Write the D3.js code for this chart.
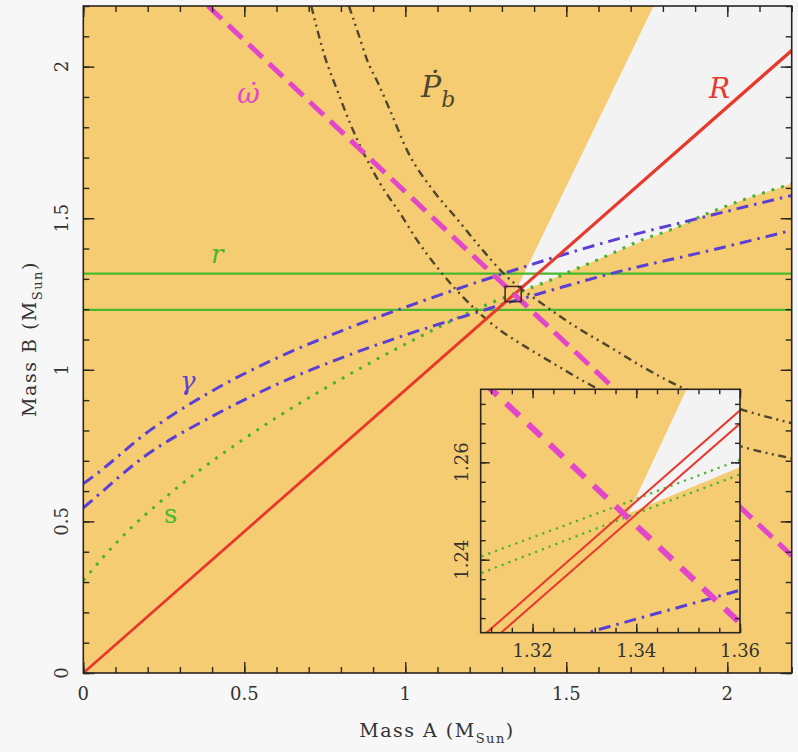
<!DOCTYPE html>
<html>
<head>
<meta charset="utf-8">
<script src="https://cdn.jsdelivr.net/npm/d3@7"></script>
<style>
  html, body { margin: 0; padding: 0; background: #f7f7f7; }
  svg { display: block; }
  text { font-family: "DejaVu Serif", serif; }
</style>
</head>
<body>
<svg id="chart" width="798" height="752"></svg>
<script>
// ---- Double-pulsar mass–mass constraints, points are [mass A, mass B] in solar masses ----
const omegaDot   = [[0.387, 2.2], [2.2, 0.387]];            // periastron advance (total mass)
const ratioHigh  = [[0, 0], [2.2, 2.0555]];                  // mass ratio R, upper bound
const ratioLow   = [[0, 0], [2.2, 2.0511]];                  // mass ratio R, lower bound
const shapiroR   = [1.198, 1.317];                           // Shapiro range r (mass B)
const pbDotA = [[0.708, 2.2], [0.751, 2.03], [0.789, 1.921], [0.829, 1.812], [0.922, 1.614],
  [0.984, 1.516], [1.037, 1.427], [1.099, 1.338], [1.211, 1.206], [1.295, 1.13], [1.357, 1.087],
  [1.46, 1.021], [1.565, 0.956], [1.8, 0.842], [2.05, 0.745], [2.2, 0.708]];
const pbDotB = [[0.825, 2.2], [0.854, 2.109], [0.882, 2.02], [0.916, 1.944], [0.953, 1.855],
  [1.006, 1.723], [1.087, 1.591], [1.161, 1.497], [1.233, 1.404], [1.305, 1.318], [1.441, 1.206],
  [1.513, 1.153], [1.637, 1.074], [1.74, 1.008], [1.864, 0.939], [2.032, 0.873], [2.2, 0.824]];
const gammaUpper = [[0, 0.625], [0.015, 0.636], [0.208, 0.801], [0.403, 0.932], [0.599, 1.038],
  [0.798, 1.127], [1.025, 1.216], [1.249, 1.298], [1.451, 1.367], [1.678, 1.437], [1.908, 1.499],
  [2.2, 1.575]];
const gammaLower = [[0, 0.545], [0.02, 0.563], [0.195, 0.718], [0.394, 0.843], [0.589, 0.946],
  [0.798, 1.038], [1.015, 1.12], [1.233, 1.193], [1.3326, 1.2256], [1.3542, 1.232], [1.451, 1.262],
  [1.678, 1.328], [1.908, 1.384], [2.2, 1.46]];
const sUpper = [[0, 0.305], [0.07, 0.392], [0.145, 0.475], [0.257, 0.581], [0.363, 0.67], [0.466, 0.748],
  [0.611, 0.85], [0.736, 0.93], [0.891, 1.023], [1.068, 1.122], [1.18, 1.181], [1.26, 1.2195],
  [1.31, 1.2406], [1.3375, 1.2515], [1.36, 1.2605], [1.45, 1.297], [1.522, 1.33], [1.627, 1.377],
  [1.73, 1.427], [1.833, 1.466], [1.938, 1.516], [2.041, 1.558], [2.2, 1.614]];
const sLower = [[0, 0.305], [0.07, 0.392], [0.145, 0.475], [0.257, 0.581], [0.363, 0.67], [0.466, 0.748],
  [0.611, 0.85], [0.736, 0.93], [0.891, 1.023], [1.068, 1.121], [1.18, 1.179], [1.26, 1.2165],
  [1.31, 1.2372], [1.3375, 1.2485], [1.36, 1.2575], [1.45, 1.294], [1.522, 1.328], [1.627, 1.376],
  [1.73, 1.426], [1.833, 1.465], [1.938, 1.515], [2.041, 1.557], [2.2, 1.613]];
const allowedRegion = [[1.3385, 1.2495], [1.3497, 1.275], [1.771, 2.2], [2.2, 2.2], [2.2, 1.614],
  [2.041, 1.558], [1.833, 1.466], [1.627, 1.377], [1.45, 1.297], [1.36, 1.259]];

// axis ticks
const mainMajor = [0, 0.5, 1, 1.5, 2];
const mainLabels = ["0", "0.5", "1", "1.5", "2"];
const mainMinor = [0, 0.1, 0.2, 0.3, 0.4, 0.5, 0.6, 0.7, 0.8, 0.9, 1, 1.1, 1.2, 1.3, 1.4, 1.5,
  1.6, 1.7, 1.8, 1.9, 2, 2.1, 2.2];
const zoomXMajor = [1.32, 1.34, 1.36];
const zoomXLabels = ["1.32", "1.34", "1.36"];
const zoomXMinor = [1.312, 1.316, 1.32, 1.324, 1.328, 1.332, 1.336, 1.34, 1.344, 1.348, 1.352, 1.356, 1.36];
const zoomYMajor = [1.24, 1.26];
const zoomYLabels = ["1.24", "1.26"];
const zoomYMinor = [1.228, 1.232, 1.236, 1.24, 1.244, 1.248, 1.252, 1.256, 1.26, 1.264, 1.268, 1.272];
const zoomDomainX = [1.31, 1.36];
const zoomDomainY = [1.225, 1.275];

// ---- colours ----
const C = {
  fill: "#f6cc72", allowed: "#f4f3f4", frame: "#2a2520",
  red: "#e8392c", magenta: "#e347c9", green: "#46b92c", dotGreen: "#46b232",
  blue: "#5a3fd6", olive: "#4f4630"
};

const svg = d3.select("#chart");

const x = d3.scaleLinear().domain([0, 2.2]).range([83.3, 791.7]);
const y = d3.scaleLinear().domain([0, 2.2]).range([673, 6]);
const ix = d3.scaleLinear().domain(zoomDomainX).range([480.7, 740]);
const iy = d3.scaleLinear().domain(zoomDomainY).range([632.7, 389.3]);

const defs = svg.append("defs");
function addClip(id, xs, ys) {
  defs.append("clipPath").attr("id", id).append("rect")
    .attr("x", xs.range()[0]).attr("y", ys.range()[1])
    .attr("width", xs.range()[1] - xs.range()[0])
    .attr("height", ys.range()[0] - ys.range()[1]);
}
addClip("clip-main", x, y);
addClip("clip-zoom", ix, iy);

function drawPanel(g, xs, ys, zoomed) {
  const line = (curve) => d3.line().x(d => xs(d[0])).y(d => ys(d[1])).curve(curve);
  const [xa, xb] = xs.domain();

  g.append("rect")
    .attr("x", xs.range()[0]).attr("y", ys.range()[1])
    .attr("width", xs.range()[1] - xs.range()[0])
    .attr("height", ys.range()[0] - ys.range()[1])
    .attr("fill", C.fill);

  g.append("path").datum(allowedRegion)
    .attr("d", line(d3.curveLinearClosed))
    .attr("fill", C.allowed);

  // Shapiro range r
  if (!zoomed) {
    g.selectAll("line.r").data(shapiroR).join("line")
      .attr("x1", xs(xa)).attr("x2", xs(xb))
      .attr("y1", d => ys(d)).attr("y2", d => ys(d))
      .attr("stroke", C.green).attr("stroke-width", 2.2);
  }

  // Shapiro shape s
  [sUpper, sLower].forEach(s => {
    g.append("path").datum(s).attr("d", line(d3.curveMonotoneX))
      .attr("fill", "none").attr("stroke", C.dotGreen)
      .attr("stroke-width", zoomed ? 2.2 : 2.6)
      .attr("stroke-dasharray", zoomed ? "2.2,5" : "2.6,7.4");
  });

  // Gravitational redshift gamma
  [gammaUpper, gammaLower].forEach(gm => {
    g.append("path").datum(gm).attr("d", line(d3.curveMonotoneX))
      .attr("fill", "none").attr("stroke", C.blue).attr("stroke-width", 3)
      .attr("stroke-dasharray", "12,6,2.5,6");
  });

  // Orbital decay Pb-dot
  if (!zoomed) {
    [pbDotA, pbDotB].forEach(p => {
      g.append("path").datum(p).attr("d", line(d3.curveMonotoneX))
        .attr("fill", "none").attr("stroke", C.olive).attr("stroke-width", 2.4)
        .attr("stroke-dasharray", "8,4.5,2,4.5,2,4.5");
    });
  }

  // Mass ratio R
  [ratioHigh, ratioLow].forEach(r => {
    g.append("path").datum(r).attr("d", line(d3.curveLinear))
      .attr("fill", "none").attr("stroke", C.red)
      .attr("stroke-width", zoomed ? 2 : 2.4);
  });

  // Periastron advance omega-dot
  g.append("path").datum(omegaDot).attr("d", line(d3.curveLinear))
    .attr("fill", "none").attr("stroke", C.magenta)
    .attr("stroke-width", zoomed ? 6 : 5)
    .attr("stroke-dasharray", zoomed ? "18,12" : "19,9");
}

function drawFrame(g, xs, ys, xMajor, yMajor, xMinor, yMinor, majLen, minLen) {
  const [x0, x1] = xs.range();
  const [y0, y1] = ys.range();
  const tidy = sel => {
    sel.select(".domain").remove();
    sel.selectAll("line").attr("stroke", C.frame).attr("stroke-width", 1.4);
  };
  const specs = [
    [d3.axisBottom, xs, `translate(0,${y0})`, xMajor, xMinor],
    [d3.axisTop, xs, `translate(0,${y1})`, xMajor, xMinor],
    [d3.axisLeft, ys, `translate(${x0},0)`, yMajor, yMinor],
    [d3.axisRight, ys, `translate(${x1},0)`, yMajor, yMinor]
  ];
  specs.forEach(([axis, sc, tr, major, minor]) => {
    g.append("g").attr("transform", tr)
      .call(axis(sc).tickValues(minor).tickSize(-minLen).tickFormat("")).call(tidy);
    g.append("g").attr("transform", tr)
      .call(axis(sc).tickValues(major).tickSize(-majLen).tickFormat("")).call(tidy);
  });
  g.append("rect").attr("x", x0).attr("y", y1)
    .attr("width", x1 - x0).attr("height", y0 - y1)
    .attr("fill", "none").attr("stroke", C.frame).attr("stroke-width", 1.6);
}

function drawLabels(g, xs, ys, xMajor, xLabels, yMajor, yLabels, xBase, yBase) {
  g.selectAll(null).data(xMajor).join("text")
    .attr("x", d => xs(d)).attr("y", xBase)
    .attr("text-anchor", "middle").attr("font-size", 18).attr("fill", "#333")
    .text((d, i) => xLabels[i]);
  g.selectAll(null).data(yMajor).join("text")
    .attr("transform", d => `translate(${yBase},${ys(d)}) rotate(-90)`)
    .attr("text-anchor", "middle").attr("font-size", 18).attr("fill", "#333")
    .text((d, i) => yLabels[i]);
}

// ---- main panel ----
const main = svg.append("g");
drawPanel(main.append("g").attr("clip-path", "url(#clip-main)"), x, y, false);

// box marking the zoomed region
main.append("rect")
  .attr("x", x(zoomDomainX[0])).attr("y", y(zoomDomainY[1]))
  .attr("width", x(zoomDomainX[1]) - x(zoomDomainX[0]))
  .attr("height", y(zoomDomainY[0]) - y(zoomDomainY[1]))
  .attr("fill", "none").attr("stroke", "#3a2a20").attr("stroke-width", 1.5);

drawFrame(main, x, y, mainMajor, mainMajor, mainMinor, mainMinor, 11, 6);
drawLabels(main, x, y, mainMajor, mainLabels, mainMajor, mainLabels, 700, 68);

// axis titles
const xTitle = main.append("text").attr("x", 437).attr("y", 737)
  .attr("text-anchor", "middle").attr("font-size", 19).attr("letter-spacing", 1.5).attr("fill", "#333");
xTitle.append("tspan").text("Mass A (M");
xTitle.append("tspan").attr("font-size", 13).attr("dy", 6).text("Sun");
xTitle.append("tspan").attr("dy", -6).text(")");

const yTitle = main.append("text").attr("transform", "translate(36,339) rotate(-90)")
  .attr("text-anchor", "middle").attr("font-size", 19).attr("letter-spacing", 1.5).attr("fill", "#333");
yTitle.append("tspan").text("Mass B (M");
yTitle.append("tspan").attr("font-size", 13).attr("dy", 6).text("Sun");
yTitle.append("tspan").attr("dy", -6).text(")");

// curve labels
const lab = (tx, ty, txt, col, size, italic) => main.append("text")
  .attr("x", tx).attr("y", ty).attr("fill", col).attr("font-size", size)
  .attr("font-style", italic ? "italic" : "normal").text(txt);
lab(237, 103, "ω̇", C.magenta, 28, true);
const pb = lab(421, 97, "Ṗ", C.olive, 30, true);
pb.append("tspan").attr("font-size", 22).attr("dy", 10).text("b");
lab(709, 98, "R", C.red, 28, true);
lab(211, 263, "r", C.green, 26, true);
lab(180, 390, "γ", C.blue, 26, true);
lab(164, 523, "s", C.green, 26, false);

// ---- zoomed inset ----
const inset = svg.append("g");
drawPanel(inset.append("g").attr("clip-path", "url(#clip-zoom)"), ix, iy, true);
drawFrame(inset, ix, iy, zoomXMajor, zoomYMajor, zoomXMinor, zoomYMinor, 9, 5);
drawLabels(inset, ix, iy, zoomXMajor, zoomXLabels, zoomYMajor, zoomYLabels, 657, 468);
</script>
</body>
</html>
